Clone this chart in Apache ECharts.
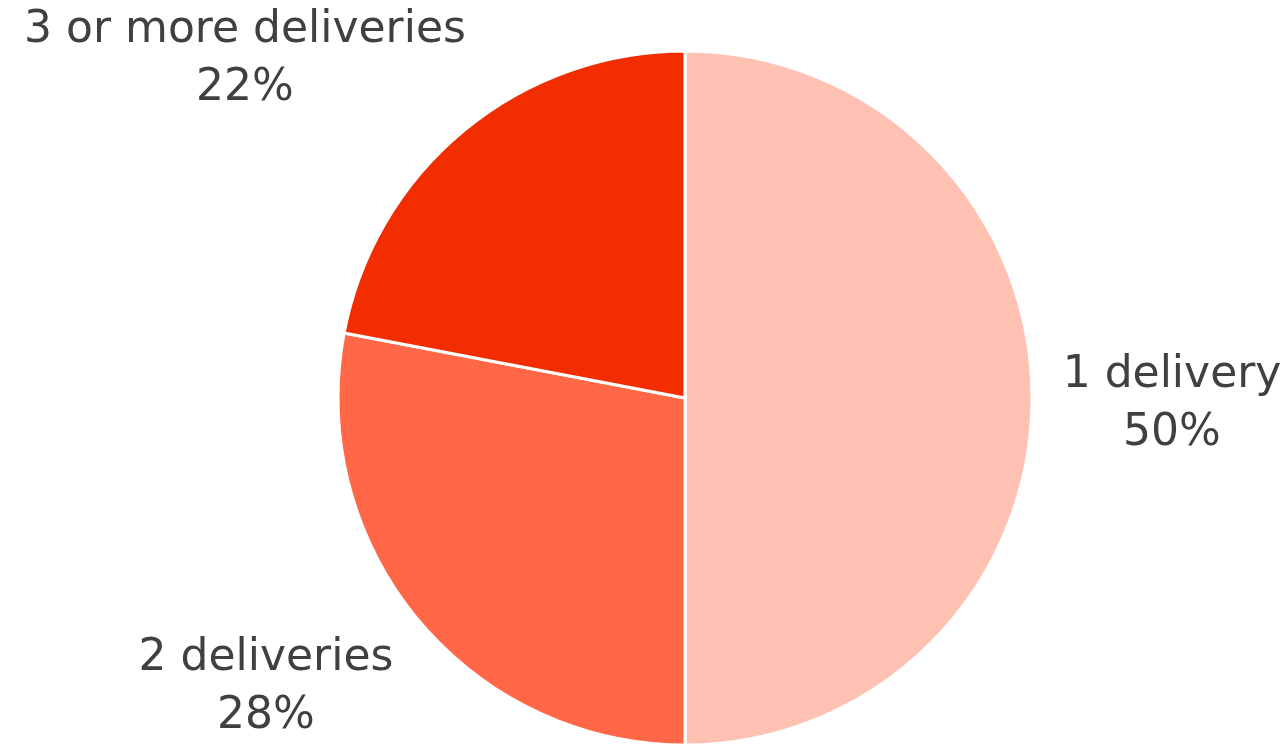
<!DOCTYPE html>
<html><head><meta charset="utf-8">
<script src="https://cdn.jsdelivr.net/npm/echarts@6/dist/echarts.min.js"></script>
<style>html,body{margin:0;padding:0;background:#fff}#c{width:1288px;height:744px}</style>
</head><body><div id="c"></div>
<script>
const categories = ['1 delivery', '2 deliveries', '3 or more deliveries'];
const values = [50, 28, 22];
const colors = ['#FFC1B1', '#FF6746', '#F22E00'];
const labelCenters = [[1172, 405], [266, 688], [245, 60]];

const chart = echarts.init(document.getElementById('c'));
chart.setOption({
  animation: false,
  series: [{
    type: 'pie',
    center: [685, 398],
    radius: 347,
    startAngle: 90,
    clockwise: true,
    data: categories.map((n, i) => ({ name: n, value: values[i], itemStyle: { color: colors[i] } })),
    itemStyle: { borderColor: '#fff', borderWidth: 3 },
    label: {
      show: true,
      position: 'outside',
      formatter: '{b}\n{d}%',
      color: '#404040',
      fontFamily: 'DejaVu Sans',
      fontSize: 44,
      lineHeight: 58,
      align: 'center',
      overflow: 'none',
      width: 500
    },
    labelLine: { show: false },
    labelLayout: function (p) {
      const c = labelCenters[p.dataIndex];
      return { x: c[0], y: c[1], align: 'center', verticalAlign: 'middle' };
    }
  }]
});
</script></body></html>
